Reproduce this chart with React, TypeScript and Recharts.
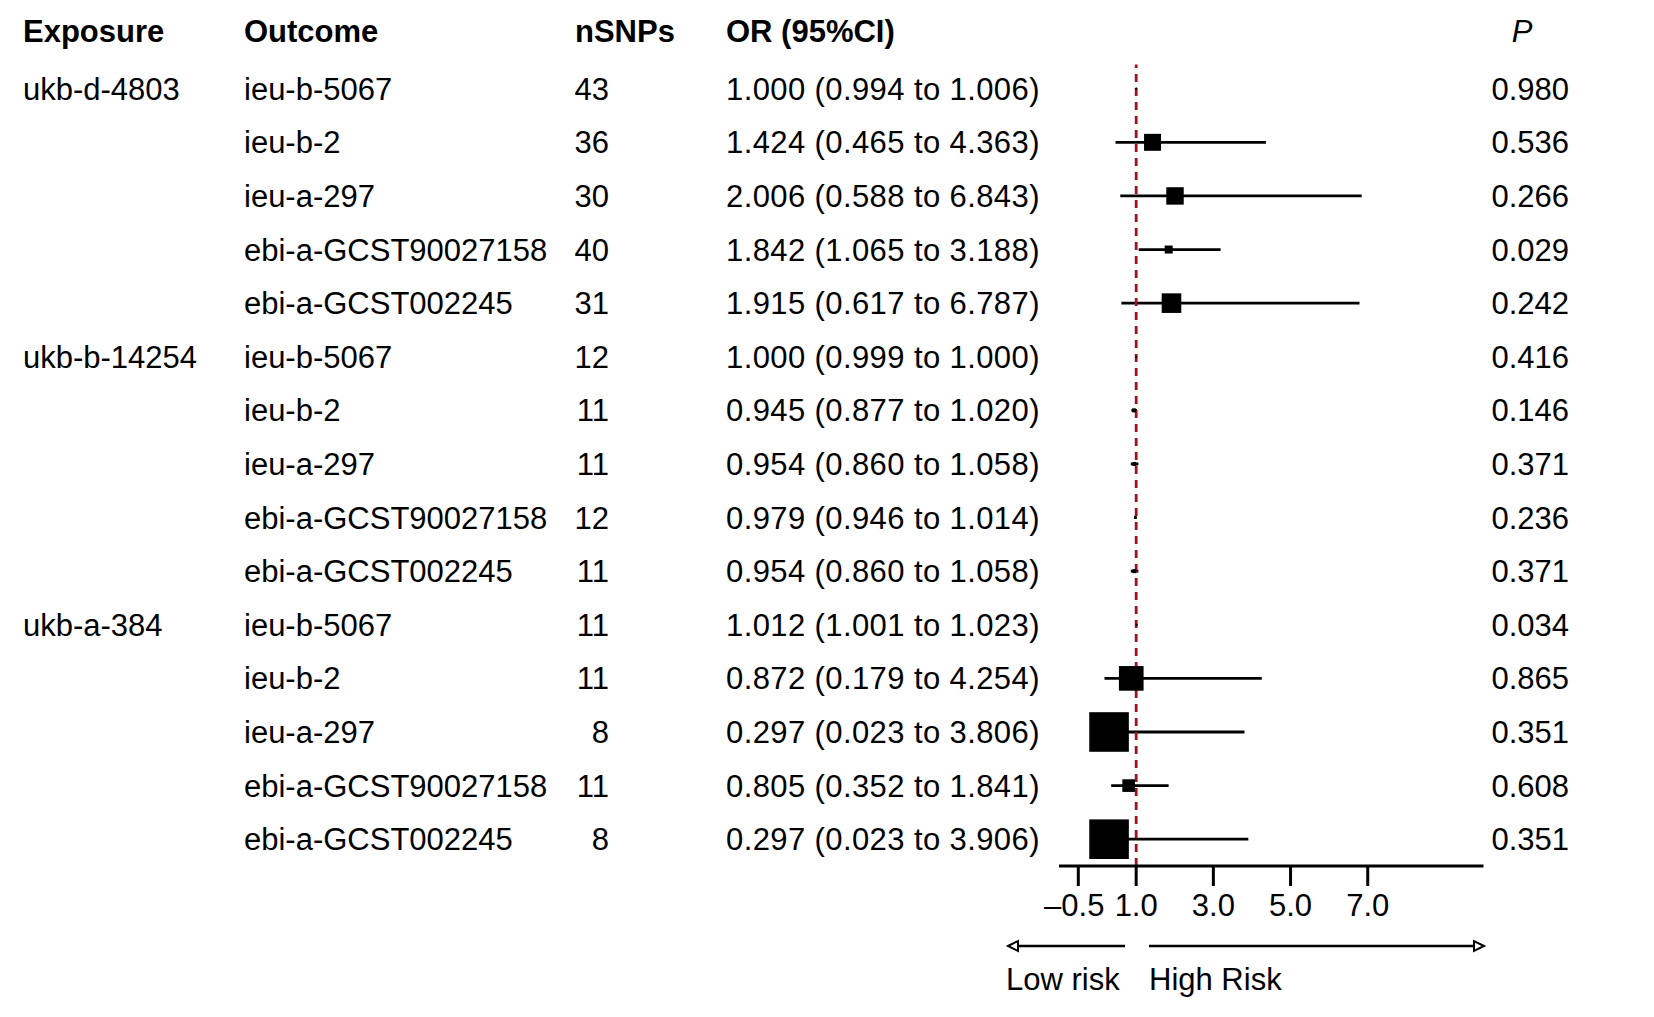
import {
  ScatterChart,
  Scatter,
  XAxis,
  YAxis,
  ZAxis,
  ErrorBar,
  ReferenceLine,
  Customized,
} from "recharts";

const exposures = [
  "ukb-d-4803", "", "", "", "",
  "ukb-b-14254", "", "", "", "",
  "ukb-a-384", "", "", "", "",
];
const outcomes = [
  "ieu-b-5067", "ieu-b-2", "ieu-a-297", "ebi-a-GCST90027158", "ebi-a-GCST002245",
  "ieu-b-5067", "ieu-b-2", "ieu-a-297", "ebi-a-GCST90027158", "ebi-a-GCST002245",
  "ieu-b-5067", "ieu-b-2", "ieu-a-297", "ebi-a-GCST90027158", "ebi-a-GCST002245",
];
const nSNPs = [43, 36, 30, 40, 31, 12, 11, 11, 12, 11, 11, 11, 8, 11, 8];
const oddsRatio = [1.0, 1.424, 2.006, 1.842, 1.915, 1.0, 0.945, 0.954, 0.979, 0.954, 1.012, 0.872, 0.297, 0.805, 0.297];
const lowerCI = [0.994, 0.465, 0.588, 1.065, 0.617, 0.999, 0.877, 0.86, 0.946, 0.86, 1.001, 0.179, 0.023, 0.352, 0.023];
const upperCI = [1.006, 4.363, 6.843, 3.188, 6.787, 1.0, 1.02, 1.058, 1.014, 1.058, 1.023, 4.254, 3.806, 1.841, 3.906];
const pValues = ["0.980", "0.536", "0.266", "0.029", "0.242", "0.416", "0.146", "0.371", "0.236", "0.371", "0.034", "0.865", "0.351", "0.608", "0.351"];
// relative weight of each estimate (box size)
const weights = [0.25, 18, 19, 4, 24, 0.2, 1, 1, 0.4, 1, 0.25, 38, 98, 10, 98];
const xTicks = [-0.5, 1, 3, 5, 7];
const rowTicks = outcomes.map((_, i) => i + 1);

const data = oddsRatio.map((v, i) => ({
  row: i + 1,
  or: v,
  err: [v - lowerCI[i], upperCI[i] - v],
  weight: weights[i],
}));

const FONT = "'Liberation Sans', Arial, sans-serif";
const FS = 31;

const BoxShape = (props: any) => {
  const { cx, cy } = props;
  let side = 0;
  if (props.size != null) side = Math.sqrt(props.size);
  else if (props.width != null) side = Math.sqrt(Math.PI) * (props.width / 2);
  return <rect x={cx - side / 2} y={cy - side / 2} width={side} height={side} fill="#000" />;
};

const RowTick = (props: any) => {
  const i = props.payload.value - 1;
  const y = props.y + 11;
  const fmt = (v: number) => v.toFixed(3);
  return (
    <g fontFamily={FONT} fontSize={FS} fill="#000">
      <text x={15} y={y}>{exposures[i]}</text>
      <text x={236} y={y}>{outcomes[i]}</text>
      <text x={601} y={y} textAnchor="end">{nSNPs[i]}</text>
      <text x={718} y={y} letterSpacing={0.4}>
        {`${fmt(oddsRatio[i])} (${fmt(lowerCI[i])} to ${fmt(upperCI[i])})`}
      </text>
    </g>
  );
};

const PTick = (props: any) => {
  const i = props.payload.value - 1;
  return (
    <text x={1561} y={props.y + 11} textAnchor="end" fontFamily={FONT} fontSize={FS} fill="#000">
      {pValues[i]}
    </text>
  );
};

const XTick = (props: any) => {
  const v = props.payload.value;
  const label = v < 0 ? "\u2013" + Math.abs(v).toFixed(1) : v.toFixed(1);
  return (
    <text x={props.x} y={props.y} dx={v < 0 ? -4 : 0} dy={28} textAnchor="middle" fontFamily={FONT} fontSize={FS} fill="#000">
      {label}
    </text>
  );
};

const Extras = () => (
  <g fontFamily={FONT} fontSize={FS} fill="#000">
    <text x={15} y={34} fontWeight="bold">Exposure</text>
    <text x={236} y={34} fontWeight="bold">Outcome</text>
    <text x={567} y={34} fontWeight="bold">nSNPs</text>
    <text x={718} y={34} fontWeight="bold">OR (95%CI)</text>
    <text x={1514} y={34} fontStyle="italic" textAnchor="middle">P</text>

    <line x1={1117} y1={938} x2={1004} y2={938} stroke="#000" strokeWidth={2.5} />
    <polygon points="1000,938 1010,933 1010,943" fill="#fff" stroke="#000" strokeWidth={2} />
    <line x1={1141} y1={938} x2={1470} y2={938} stroke="#000" strokeWidth={2.5} />
    <polygon points="1476,938 1466,933 1466,943" fill="#fff" stroke="#000" strokeWidth={2} />

    <text x={998} y={982}>Low risk</text>
    <text x={1141} y={982}>High Risk</text>
  </g>
);

export default function App() {
  return (
    <ScatterChart
      width={1638}
      height={1000}
      data={data}
      margin={{ top: 56.6, right: 12.5, bottom: 82, left: 11 }}
    >
      <XAxis
        type="number"
        dataKey="or"
        domain={[-1, 10]}
        ticks={xTicks}
        interval={0}
        height={60}
        tickSize={20}
        axisLine={{ stroke: "#000", strokeWidth: 3 }}
        tickLine={{ stroke: "#000", strokeWidth: 3 }}
        tick={<XTick />}
      />
      <YAxis
        type="number"
        dataKey="row"
        domain={[0.55, 15.5]}
        reversed
        ticks={rowTicks}
        interval={0}
        width={1040}
        axisLine={false}
        tickLine={false}
        tick={<RowTick />}
      />
      <YAxis
        yAxisId="p"
        orientation="right"
        type="number"
        dataKey="row"
        domain={[0.55, 15.5]}
        reversed
        ticks={rowTicks}
        interval={0}
        width={150}
        axisLine={false}
        tickLine={false}
        tick={<PTick />}
      />
      <ZAxis type="number" dataKey="weight" domain={[0, 100]} range={[0, 1600]} />
      <Scatter data={data} shape={<BoxShape />} isAnimationActive={false}>
        <ErrorBar dataKey="err" direction="x" width={0} stroke="#000" strokeWidth={2.8} isAnimationActive={false} />
      </Scatter>
      <ReferenceLine x={1} stroke="#A3121C" strokeWidth={2.8} strokeDasharray="8 6" />
      <Customized component={<Extras />} />
    </ScatterChart>
  );
}
